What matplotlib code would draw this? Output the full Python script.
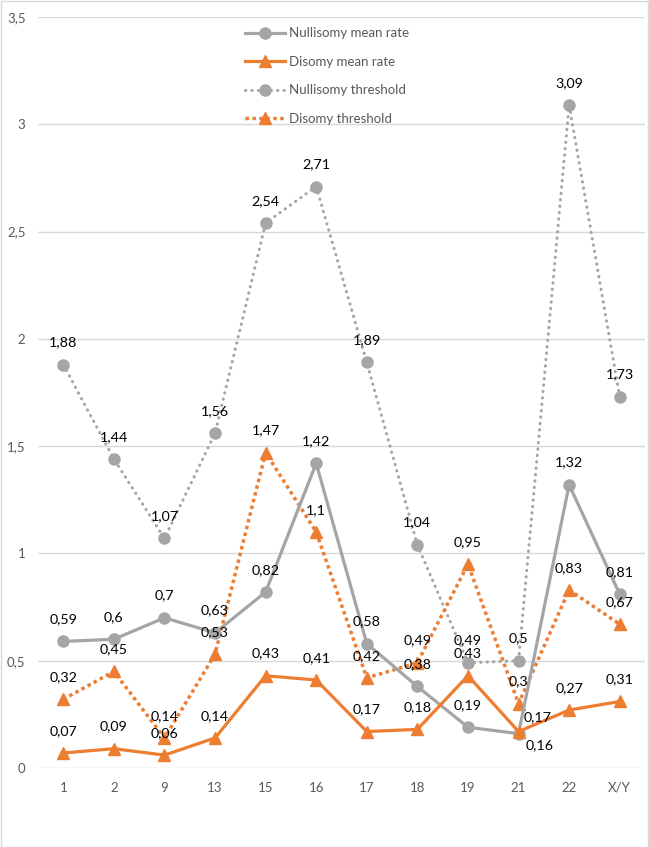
import matplotlib
matplotlib.use('Agg')
import matplotlib.pyplot as plt
from matplotlib.patches import Rectangle

plt.rcParams['font.family'] = ['Lato', 'DejaVu Sans']

''' data '''
chromosomes = ['1', '2', '9', '13', '15', '16', '17', '18', '19', '21', '22', 'X/Y']
nullisomy_mean = [0.59, 0.6, 0.7, 0.63, 0.82, 1.42, 0.58, 0.38, 0.19, 0.16, 1.32, 0.81]
disomy_mean = [0.07, 0.09, 0.06, 0.14, 0.43, 0.41, 0.17, 0.18, 0.43, 0.17, 0.27, 0.31]
nullisomy_thr = [1.88, 1.44, 1.07, 1.56, 2.54, 2.71, 1.89, 1.04, 0.49, 0.5, 3.09, 1.73]
disomy_thr = [0.32, 0.45, 0.14, 0.53, 1.47, 1.1, 0.42, 0.49, 0.95, 0.3, 0.83, 0.67]
yticks = [0, 0.5, 1, 1.5, 2, 2.5, 3, 3.5]

grey = '#A5A5A5'
orange = '#ED7D31'
txtgrey = '#595959'

W, H = 649, 847
fig = plt.figure(figsize=(W/100, H/100), dpi=100)
ax = fig.add_axes([38/W, (H-768)/H, (645-38)/W, (768-17)/H])

x = list(range(len(chromosomes)))

ax.plot(x, nullisomy_mean, color=grey, lw=2.3, marker='o', ms=8, label='Nullisomy mean rate', zorder=4)
ax.plot(x, disomy_mean, color=orange, lw=2.3, marker='^', ms=9, label='Disomy mean rate', zorder=4)
ax.plot(x, nullisomy_thr, color=grey, lw=2.2, ls=(0, (0.1, 2.0)), dash_capstyle='round',
        marker='o', ms=8, label='Nullisomy threshold', zorder=3)
ax.plot(x, disomy_thr, color=orange, lw=2.5, ls=(0, (1, 1)), dash_capstyle='butt',
        marker='^', ms=9, label='Disomy threshold', zorder=3)

def fmt(v):
    return '{:g}'.format(v).replace('.', ',')

# data labels, mostly centred above the point
special = {('nm', 9): (15, -8), ('dm', 9): (14, 10)}
for key, series in [('nm', nullisomy_mean), ('dm', disomy_mean),
                    ('nt', nullisomy_thr), ('dt', disomy_thr)]:
    for i, v in enumerate(series):
        off = special.get((key, i), (0, 16))
        ax.annotate(fmt(v), (i, v), xytext=off, textcoords='offset points',
                    ha='center', va='center', fontsize=10.3, color='black', zorder=6)

ax.set_xlim(-0.5, len(chromosomes) - 0.5)
ax.set_ylim(0, 3.5)
ax.set_xticks(x)
ax.set_xticklabels(chromosomes)
ax.set_yticks(yticks)
ax.set_yticklabels([fmt(v) for v in yticks])
ax.tick_params(axis='both', length=0, colors=txtgrey, labelsize=9.5)
ax.tick_params(axis='x', pad=10)
ax.tick_params(axis='y', pad=9)
ax.grid(axis='y', color='#D9D9D9', lw=1)
ax.set_axisbelow(True)
for s in ax.spines.values():
    s.set_visible(False)

leg = ax.legend(loc='upper left', bbox_to_anchor=(240/W, 1 - 22/H), bbox_transform=fig.transFigure,
                frameon=False, fontsize=9.5, handlelength=3.0, handletextpad=0.3,
                labelspacing=1.25, borderaxespad=0)
for t in leg.get_texts():
    t.set_color(txtgrey)

fig.patches.append(Rectangle((0.5/W, 0.5/H), 1 - 1.5/W, 1 - 1.5/H, transform=fig.transFigure,
                             fill=False, edgecolor='#D9D9D9', lw=1))

fig.savefig('out.png', dpi=100)
